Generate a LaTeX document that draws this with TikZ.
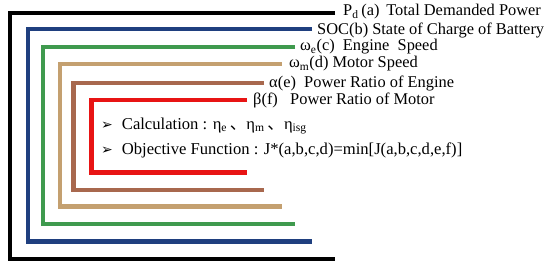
\documentclass[tikz,border=0pt]{standalone}
\usepackage{fontspec}
\setmainfont{Liberation Serif}
\newfontfamily\symfont{DejaVu Sans}
\newfontfamily\cjk{Noto Sans CJK SC}
\usetikzlibrary{positioning}

\definecolor{cblack}{HTML}{000000}
\definecolor{cblue}{HTML}{1F3F7F}
\definecolor{cgreen}{HTML}{3F9A4E}
\definecolor{ctan}{HTML}{C4A070}
\definecolor{cbrown}{HTML}{A8684E}
\definecolor{cred}{HTML}{E81414}

\begin{document}
\begin{tikzpicture}[x=1pt, y=-1pt, every node/.style={font=\fontsize{16.4}{17}\selectfont},
	bracket/.style={line width=4.5pt},
	lbl/.style={inner sep=0pt, anchor=west},
	txt/.style={inner sep=0pt, anchor=west, font=\fontsize{16.6}{18}\selectfont}]
	\useasboundingbox (0,0) rectangle (550,267);
	% nested brackets, outermost first
	\foreach \k/\col/\xl/\yt/\yb/\xr in {a/cblack/10/13/259/335, b/cblue/28/29/241.5/312,
		c/cgreen/43/47/224/295, d/ctan/60/64/206.5/282, e/cbrown/73.5/83/190/264, f/cred/91.5/100/172.5/247} {
		\coordinate (t\k) at (\xr,\yt);
		\coordinate (b\k) at (\xr,\yb);
		\draw[bracket, \col] (t\k) -- (\xl,\yt) -- (\xl,\yb) -- (b\k);
	}
	% labels of the brackets
	\node[lbl, right=8pt of ta, yshift=1pt] (la) {P\textsubscript{d}\,(a)\ \,Total\ Demanded\ Power};
	\node[lbl, right=5pt of tb, yshift=-1pt] (lb) {SOC(b) State of Charge of Battery};
	\node[lbl, right=5pt of tc] (lc) {ω\textsubscript{e}(c)\ \ Engine\ \ Speed};
	\node[lbl, right=7pt of td] (ld) {ω\textsubscript{m}(d) Motor Speed};
	\node[lbl, right=5pt of te] (le) {α(e)\ \ Power Ratio\ of Engine};
	\node[lbl, right=6pt of tf] (lf) {β(f)\ \ \ Power Ratio\ of Motor};
	% inner text
	\node[txt] (calc) at (101,126) {{\symfont\fontsize{14}{14}\selectfont ➢}\hspace{9pt}Calculation : η\textsubscript{e}\,{\cjk 、}η\textsubscript{m}\,{\cjk 、}η\textsubscript{isg}};
	\node[txt] (obj) at (101,150) {{\symfont\fontsize{14}{14}\selectfont ➢}\hspace{9pt}Objective\ Function : J*(a,b,c,d)=min[J(a,b,c,d,e,f)]};
\end{tikzpicture}
\end{document}
